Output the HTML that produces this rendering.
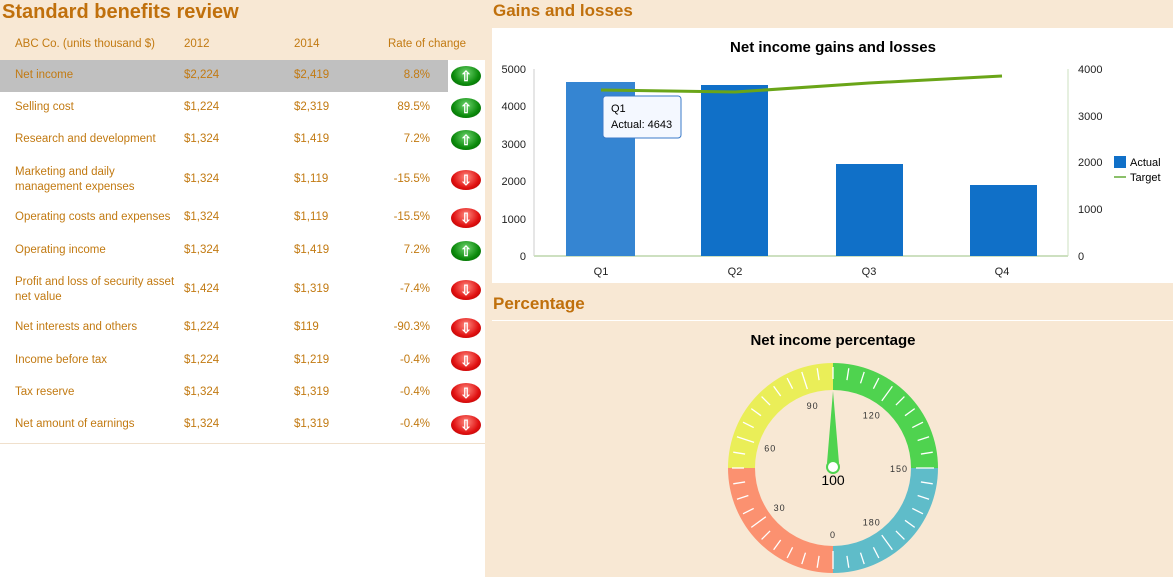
<!DOCTYPE html>
<html><head><meta charset="utf-8"><style>
body{margin:0;width:1173px;height:577px;overflow:hidden;background:#f8e8d4;font-family:"Liberation Sans",sans-serif;position:relative}
.abs{position:absolute}
.t{color:#c27a12;font-size:11.5px;line-height:15px}
.h{color:#c0700c;font-weight:bold;font-size:20px}
</style></head><body>
<div class="abs" style="left:0;top:60px;width:485px;height:517px;background:#fff"></div>
<div class="abs" style="left:0;top:60px;width:448px;height:32px;background:#c0c0c0"></div>
<div class="abs" style="left:0;top:443px;width:485px;height:1px;background:#f0e0cc"></div>
<div class="abs h" style="left:2px;top:1px">Standard benefits review</div>
<div id="tbl"></div>
<div class="abs" style="left:492px;top:28px;width:681px;height:255px;background:#fff"></div>
<div class="abs h" style="left:493px;top:1px;font-size:17px">Gains and losses</div>
<div class="abs h" style="left:493px;top:294px;font-size:17px">Percentage</div>
<div class="abs" style="left:492px;top:320px;width:681px;height:1px;background:#fff"></div>
<svg class="abs" style="left:0;top:0" width="1173" height="577" id="s">
<text x="833" y="52" text-anchor="middle" font-size="15" font-weight="bold" fill="#000">Net income gains and losses</text>
<g font-size="11" fill="#222">
<text x="526" y="73" text-anchor="end">5000</text><text x="526" y="110" text-anchor="end">4000</text>
<text x="526" y="148" text-anchor="end">3000</text><text x="526" y="185" text-anchor="end">2000</text>
<text x="526" y="223" text-anchor="end">1000</text><text x="526" y="260" text-anchor="end">0</text>
<text x="1078" y="73">4000</text><text x="1078" y="120">3000</text><text x="1078" y="166">2000</text>
<text x="1078" y="213">1000</text><text x="1078" y="260">0</text>
<text x="601" y="275" text-anchor="middle">Q1</text><text x="735" y="275" text-anchor="middle">Q2</text>
<text x="869" y="275" text-anchor="middle">Q3</text><text x="1002" y="275" text-anchor="middle">Q4</text>
</g>
<line x1="534" y1="69" x2="534" y2="256" stroke="#ccc"/>
<line x1="1068" y1="69" x2="1068" y2="256" stroke="#cde0c0"/>
<line x1="534" y1="256" x2="1068" y2="256" stroke="#cde0c0" stroke-width="2"/>
<rect x="566" y="82" width="69" height="174" fill="#3585d2"/>
<rect x="701" y="85" width="67" height="171" fill="#1070c8"/>
<rect x="836" y="164" width="67" height="92" fill="#1070c8"/>
<rect x="970" y="185" width="67" height="71" fill="#1070c8"/>
<polyline points="601,90 735,92 869,83 1002,76" fill="none" stroke="#6aa518" stroke-width="3"/>
<rect x="603" y="96" width="78" height="42" rx="3" fill="#f4f8ff" stroke="#3a7ac8"/>
<text x="611" y="112" font-size="11">Q1</text><text x="611" y="128" font-size="11">Actual: 4643</text>
<rect x="1114" y="156" width="12" height="12" fill="#1070c8"/>
<text x="1130" y="166" font-size="11">Actual</text>
<line x1="1114" y1="177" x2="1126" y2="177" stroke="#8bc06a" stroke-width="2"/>
<text x="1130" y="181" font-size="11">Target</text>
<text x="833" y="345" text-anchor="middle" font-size="15" font-weight="bold">Net income percentage</text>
<g id="g"></g>
</svg>
<script>
var rows=[["Net income","$2,224","$2,419","8.8%",1],["Selling cost","$1,224","$2,319","89.5%",1],["Research and development","$1,324","$1,419","7.2%",1],["Marketing and daily<br>management expenses","$1,324","$1,119","-15.5%",0],["Operating costs and expenses","$1,324","$1,119","-15.5%",0],["Operating income","$1,324","$1,419","7.2%",1],["Profit and loss of security asset<br>net value","$1,424","$1,319","-7.4%",0],["Net interests and others","$1,224","$119","-90.3%",0],["Income before tax","$1,224","$1,219","-0.4%",0],["Tax reserve","$1,324","$1,319","-0.4%",0],["Net amount of earnings","$1,324","$1,319","-0.4%",0]];
var ys=[76,108,140,180,218,251,290,328,361,393,425],h='';
h+='<div class="abs t" style="left:15px;top:37px">ABC Co. (units thousand $)</div><div class="abs t" style="left:184px;top:37px">2012</div><div class="abs t" style="left:294px;top:37px">2014</div><div class="abs t" style="left:388px;top:37px">Rate of change</div>';
rows.forEach(function(r,i){var y=ys[i];var two=r[0].indexOf('<br>')>0;
h+='<div class="abs t" style="left:15px;top:'+(y-(two?15:8))+'px">'+r[0]+'</div>';
h+='<div class="abs t" style="left:184px;top:'+(y-8)+'px">'+r[1]+'</div><div class="abs t" style="left:294px;top:'+(y-8)+'px">'+r[2]+'</div>';
h+='<div class="abs t" style="right:'+(1173-430)+'px;top:'+(y-8)+'px">'+r[3]+'</div>';
var c=r[4]?'radial-gradient(ellipse at 50% 35%,#6fd46f,#0b8a0b 60%,#065a06)':'radial-gradient(ellipse at 50% 35%,#ff8a80,#e01010 60%,#a00000)';
h+='<div class="abs" style="left:451px;top:'+(y-10)+'px;width:30px;height:20px;border-radius:50%;background:'+c+';color:#fff;font-size:14px;font-weight:bold;text-align:center;line-height:20px">'+(r[4]?'&#8679;':'&#8681;')+'</div>';});
document.getElementById('tbl').innerHTML=h;
var cx=833,cy=468,R=105,r=78,s='';
function p(a,rad){var t=a*Math.PI/180;return [cx+rad*Math.sin(t),cy-rad*Math.cos(t)];}
var cols=['#4fd34f','#5fbcc9','#fb9170','#eaee58'];
for(var q=0;q<4;q++){var a0=q*90,a1=a0+90,A=p(a0,R),B=p(a1,R),C=p(a1,r),D=p(a0,r);
s+='<path d="M'+A+' A'+R+' '+R+' 0 0 1 '+B+' L'+C+' A'+r+' '+r+' 0 0 0 '+D+'Z" fill="'+cols[q]+'"/>';}
for(var v=0;v<200;v+=5){var a=180+v*1.8,L=(v%30==0)?18:12,P=p(a,R-4),Q=p(a,R-4-L);s+='<line x1="'+P[0]+'" y1="'+P[1]+'" x2="'+Q[0]+'" y2="'+Q[1]+'" stroke="#fff" stroke-width="1.3"/>';}
[0,30,60,90,120,150,180].forEach(function(v){var a=180+v*1.8,P=p(a,r-12);s+='<text x="'+P[0]+'" y="'+(P[1]+4)+'" text-anchor="middle" font-size="9" fill="#333" letter-spacing="1">'+v+'</text>';});
s+='<path d="M833,391 L827,463 L839,463Z" fill="#4fd34f"/><circle cx="833" cy="467" r="6" fill="#fff" stroke="#4fd34f" stroke-width="2"/>';
s+='<text x="833" y="485" text-anchor="middle" font-size="14">100</text>';
document.getElementById('g').innerHTML=s;
</script>
</body></html>
